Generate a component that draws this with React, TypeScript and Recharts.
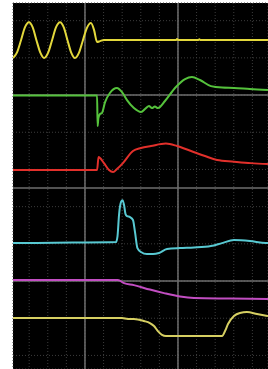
import React from "react";
import { LineChart, Line, XAxis, YAxis, CartesianGrid, ReferenceLine } from "recharts";

// Units: minor grid divisions. x = 0 and y = 0 sit on the central major grid lines.
const xTicks = [-3, -2, -1, 0, 1, 2, 3, 4, 5, 6, 7, 8, 9];
const yTicks = [-9, -8, -7, -6, -5, -4, -3, -2, -1, 0, 1, 2, 3, 4, 5, 6, 7, 8, 9];
const majorX = [0, 5];
const majorY = [5, 0, -5];

const yellowTop: [number, number][] = [
  [-3.87, 6.99], [-3.66, 7.28], [-3.44, 7.95], [-3.23, 8.64], [-3.01, 8.92],
  [-2.81, 8.64], [-2.61, 7.95], [-2.40, 7.28], [-2.20, 6.99], [-1.98, 7.28],
  [-1.77, 7.95], [-1.56, 8.64], [-1.34, 8.92], [-1.14, 8.64], [-0.94, 7.95],
  [-0.74, 7.28], [-0.54, 6.99], [-0.32, 7.28], [-0.11, 7.95], [0.10, 8.6],
  [0.32, 8.87], [0.49, 8.49], [0.65, 7.85], [0.81, 7.90], [1.02, 7.96],
  [4.90, 7.96], [4.95, 8.02], [5.0, 7.96], [6.10, 7.96], [6.15, 8.0], [6.2, 7.96], [9.84, 7.96],
];

const green: [number, number][] = [
  [-3.87, 4.97], [0.65, 4.97], [0.68, 3.33], [0.72, 3.76], [0.81, 3.98],
  [0.91, 4.03], [1.08, 4.62], [1.34, 5.11], [1.72, 5.38], [1.99, 5.16],
  [2.26, 4.73], [2.63, 4.30], [3.01, 4.09], [3.28, 4.30], [3.44, 4.41],
  [3.60, 4.30], [3.76, 4.38], [3.92, 4.30], [4.30, 4.68], [4.84, 5.38],
  [5.38, 5.86], [5.75, 5.97], [6.18, 5.81], [6.77, 5.48], [7.37, 5.40],
  [8.01, 5.38], [8.87, 5.32], [9.84, 5.27],
];

const red: [number, number][] = [
  [-3.87, 0.97], [0.65, 0.97], [0.73, 1.67], [0.81, 1.61], [1.02, 1.34],
  [1.29, 0.97], [1.51, 0.86], [1.72, 1.02], [2.04, 1.34], [2.58, 1.99],
  [3.01, 2.15], [3.55, 2.26], [4.35, 2.39], [4.95, 2.26], [5.70, 1.99],
  [6.45, 1.72], [7.10, 1.51], [8.01, 1.42], [8.92, 1.34], [9.84, 1.29],
];

const cyan: [number, number][] = [
  [-3.87, -2.96], [-0.65, -2.93], [1.67, -2.90], [1.75, -2.58], [1.83, -1.45],
  [1.94, -0.75], [2.02, -0.65], [2.10, -0.91], [2.18, -1.40], [2.26, -1.51],
  [2.42, -1.56], [2.58, -1.72], [2.69, -2.37], [2.82, -3.23], [3.01, -3.44],
  [3.33, -3.55], [3.66, -3.55], [3.98, -3.49], [4.41, -3.28], [5.11, -3.23],
  [5.86, -3.20], [6.77, -3.12], [7.37, -2.96], [8.01, -2.80], [8.87, -2.85],
  [9.73, -2.96], [9.84, -2.96],
];

const magenta: [number, number][] = [
  [-3.87, -4.95], [1.77, -4.95], [2.10, -5.11], [2.63, -5.22], [3.49, -5.46],
  [4.25, -5.65], [5.11, -5.83], [5.86, -5.91], [7.80, -5.94], [9.84, -5.97],
];

const yellowBottom: [number, number][] = [
  [-3.87, -6.99], [1.99, -6.99], [2.31, -7.04], [2.63, -7.04], [3.17, -7.15],
  [3.49, -7.26], [3.71, -7.42], [3.92, -7.69], [4.14, -7.90], [4.35, -7.96],
  [7.37, -7.96], [7.53, -7.69], [7.69, -7.31], [8.01, -6.88], [8.33, -6.72],
  [8.71, -6.67], [9.25, -6.77], [9.84, -6.88],
];

const toRows = (pts: [number, number][]) => pts.map(([x, y]) => ({ x, y }));

const traces = [
  { name: "ch1", pts: yellowTop, color: "#e3d83c" },
  { name: "ch2", pts: green, color: "#55c23c" },
  { name: "ch3", pts: red, color: "#e2302b" },
  { name: "ch4", pts: cyan, color: "#58c9d2" },
  { name: "ch5", pts: magenta, color: "#c24ec2" },
  { name: "ch6", pts: yellowBottom, color: "#d6cf62" },
];

export default function App() {
  return (
    <div style={{ position: "absolute", left: 0, top: 0 }}>
      <LineChart width={268} height={369} margin={{ top: 3, right: 0, bottom: 0, left: 13 }}>
        <CartesianGrid
          fill="#000000"
          stroke="#3c3c3c"
          strokeDasharray="1 2"
        />
        <XAxis
          type="number"
          dataKey="x"
          domain={[-3.87, 9.84]}
          ticks={xTicks}
          allowDataOverflow
          hide
        />
        <YAxis
          type="number"
          dataKey="y"
          domain={[-9.73, 9.95]}
          ticks={yTicks}
          allowDataOverflow
          hide
        />
        {majorX.map((v) => (
          <ReferenceLine key={"x" + v} x={v} stroke="#6e6e6e" strokeWidth={1.5} />
        ))}
        {majorY.map((v) => (
          <ReferenceLine key={"y" + v} y={v} stroke="#6e6e6e" strokeWidth={1.5} />
        ))}
        {traces.map((t) => (
          <Line
            key={t.name}
            data={toRows(t.pts)}
            dataKey="y"
            type="monotone"
            stroke={t.color}
            strokeWidth={2}
            dot={false}
            activeDot={false}
            isAnimationActive={false}
          />
        ))}
      </LineChart>
    </div>
  );
}
